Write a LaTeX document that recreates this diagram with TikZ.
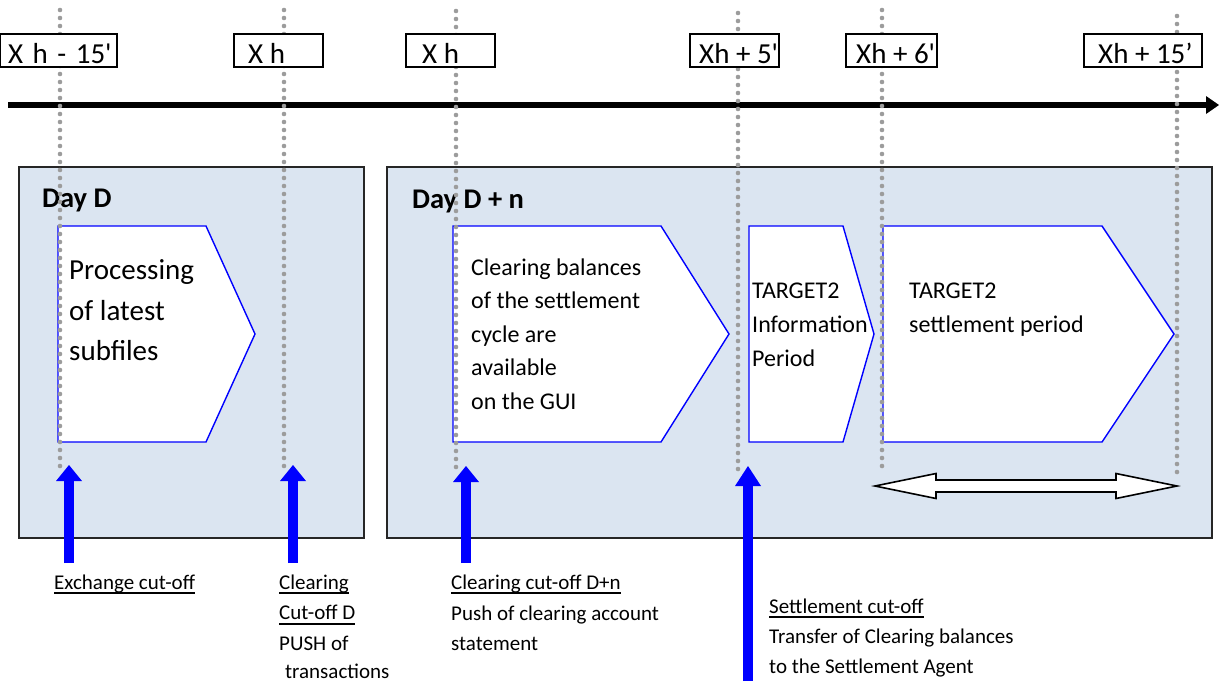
\documentclass[tikz,border=0pt]{standalone}
\usepackage{fontspec}
\setmainfont{Carlito}
\usetikzlibrary{arrows.meta}
\definecolor{dayfill}{HTML}{DBE5F1}
\definecolor{dotgray}{HTML}{9C9C9C}
\definecolor{pblue}{HTML}{0000FF}
\newcommand\myul[1]{\setbox0\hbox{#1}\rlap{\rule[-5pt]{\wd0}{1.6pt}}\box0}
\begin{document}
\begin{tikzpicture}[x=1pt,y=-1pt,
 daybox/.style={draw=black!85, line width=2pt, fill=dayfill},
 procshape/.style={draw=pblue, line width=1.4pt, fill=white, line join=miter},
 guide/.style={dotgray, line width=4.6pt, line cap=round, dash pattern=on 0pt off 8pt},
 timebox/.style={draw=black, line width=1.8pt, fill=white, inner sep=0pt, anchor=north west},
 timetxt/.style={anchor=base west, inner sep=0pt, font=\fontsize{29}{35}\selectfont},
 daytxt/.style={anchor=base west, inner sep=0pt, font=\bfseries\fontsize{28.5}{33}\selectfont},
 bigtxt/.style={anchor=base west, inner sep=0pt, font=\fontsize{29}{35}\selectfont},
 midtxt/.style={anchor=base west, inner sep=0pt, font=\fontsize{24}{29}\selectfont},
 smalltxt/.style={anchor=base west, inner sep=0pt, font=\fontsize{21}{25}\selectfont},
 cutarrow/.style={pblue, line width=10pt, -{Triangle[length=16pt,width=26pt,line width=0pt]}},
 longcut/.style={pblue, line width=10pt, -{Triangle[length=20pt,width=26pt,line width=0pt]}},
 timeline/.style={black, line width=5.5pt, -{Triangle[length=13pt,width=18pt,line width=0pt]}},
 span/.style={draw=black, line width=1.6pt, fill=white, line join=miter}
]
\useasboundingbox (0,0) rectangle (1219,681);

% day boxes
\draw[daybox] (19,167) rectangle (364,538);
\draw[daybox] (387,167) rectangle (1212,538);
\node[daytxt] (dayD) at (42,207) {Day D};
\node[daytxt] (dayDn) at (412,208) {Day D + n};

% process shapes
\draw[procshape] (58,226) -- (206,226) -- (255,334) -- (206,442) -- (58,442) -- cycle;
\draw[procshape] (453,226) -- (661,226) -- (729,334) -- (661,442) -- (453,442) -- cycle;
\draw[procshape] (749,226) -- (843,226) -- (874,334) -- (843,442) -- (749,442) -- cycle;
\draw[procshape] (883,226) -- (1102,226) -- (1174,334) -- (1102,442) -- (883,442) -- cycle;

\node[bigtxt] (p1a) at (69,279.5) {Processing};
\node[bigtxt] (p1b) at (69,320) {of latest};
\node[bigtxt] (p1c) at (69,360.5) {subfiles};

\node[midtxt] (p2a) at (471,275) {Clearing balances};
\node[midtxt] (p2b) at (471,308.5) {of the settlement};
\node[midtxt] (p2c) at (471,342) {cycle are};
\node[midtxt] (p2d) at (471,375.5) {available};
\node[midtxt] (p2e) at (471,409) {on the GUI};

\node[midtxt] (p3a) at (752,298) {TARGET2};
\node[midtxt] (p3b) at (752,332) {Information};
\node[midtxt] (p3c) at (752,366) {Period};

\node[midtxt] (p4a) at (909,298) {TARGET2};
\node[midtxt] (p4b) at (909,332) {settlement period};

% settlement period span
\draw[span] (875,486) -- (936,473.5) -- (936,480) -- (1116,480) -- (1116,473.5) -- (1177,486)
  -- (1116,498.5) -- (1116,492) -- (936,492) -- (936,498.5) -- cycle;

% timeline
\coordinate (tl0) at (8,105);
\coordinate (tl1) at (1219,105);
\draw[timeline] (tl0) -- (tl1);

% guides
\foreach \n/\x/\a/\b in {1/60/10/466, 2/284/10/466, 3/456/11/467, 4/738/13/472, 5/882/10/466, 6/1177/16/475}{
  \coordinate (g\n t) at (\x,\a);
  \coordinate (g\n b) at (\x,\b);
  \draw[guide] (g\n t) -- (g\n b);
}

% time labels
\node[timebox, minimum width=117pt, minimum height=33pt] (b1) at (-1,33) {};
\node[timebox, minimum width=89pt, minimum height=33pt] (b2) at (233,33) {};
\node[timebox, minimum width=89pt, minimum height=33pt] (b3) at (405,33) {};
\node[timebox, minimum width=89pt, minimum height=33pt] (b4) at (689,33) {};
\node[timebox, minimum width=91pt, minimum height=33pt] (b5) at (845,33) {};
\node[timebox, minimum width=118pt, minimum height=33pt] (b6) at (1083,33) {};
\node[timetxt] (l1) at (8,63) {X\hspace{9.5pt}h\hspace{9.5pt}-\hspace{9.5pt}15\textquotesingle};
\node[timetxt] (l2) at (248,63) {X h};
\node[timetxt] (l3) at (422,63) {X h};
\node[timetxt] (l4) at (699,63) {Xh + 5\textquotesingle};
\node[timetxt] (l5) at (856,63) {Xh + 6\textquotesingle};
\node[timetxt] (l6) at (1098,63) {Xh + 15’};

% cut-off arrows
\coordinate (a1b) at (69,563);  \coordinate (a1t) at (69,465);
\coordinate (a2b) at (293,563); \coordinate (a2t) at (293,465);
\coordinate (a3b) at (466,563); \coordinate (a3t) at (466,466);
\coordinate (a4b) at (748,681); \coordinate (a4t) at (748,466);
\draw[cutarrow] (a1b) -- (a1t);
\draw[cutarrow] (a2b) -- (a2t);
\draw[cutarrow] (a3b) -- (a3t);
\draw[longcut] (a4b) -- (a4t);

% bottom texts
\node[smalltxt] (c1) at (54,589) {\myul{Exchange cut-off}};
\node[smalltxt] (c2a) at (279,589) {\myul{Clearing}};
\node[smalltxt] (c2b) at (279,619.5) {\myul{Cut-off D}};
\node[smalltxt] (c2c) at (279,650) {PUSH of};
\node[smalltxt] (c2d) at (285,678) {transactions};
\node[smalltxt] (c3a) at (451,589) {\myul{Clearing cut-off D+n}};
\node[smalltxt] (c3b) at (451,620) {Push of clearing account};
\node[smalltxt] (c3c) at (451,650) {statement};
\node[smalltxt] (c4a) at (769,613) {\myul{Settlement cut-off}};
\node[smalltxt] (c4b) at (769,643) {Transfer of Clearing balances};
\node[smalltxt] (c4c) at (769,673) {to the Settlement Agent};
\end{tikzpicture}
\end{document}
